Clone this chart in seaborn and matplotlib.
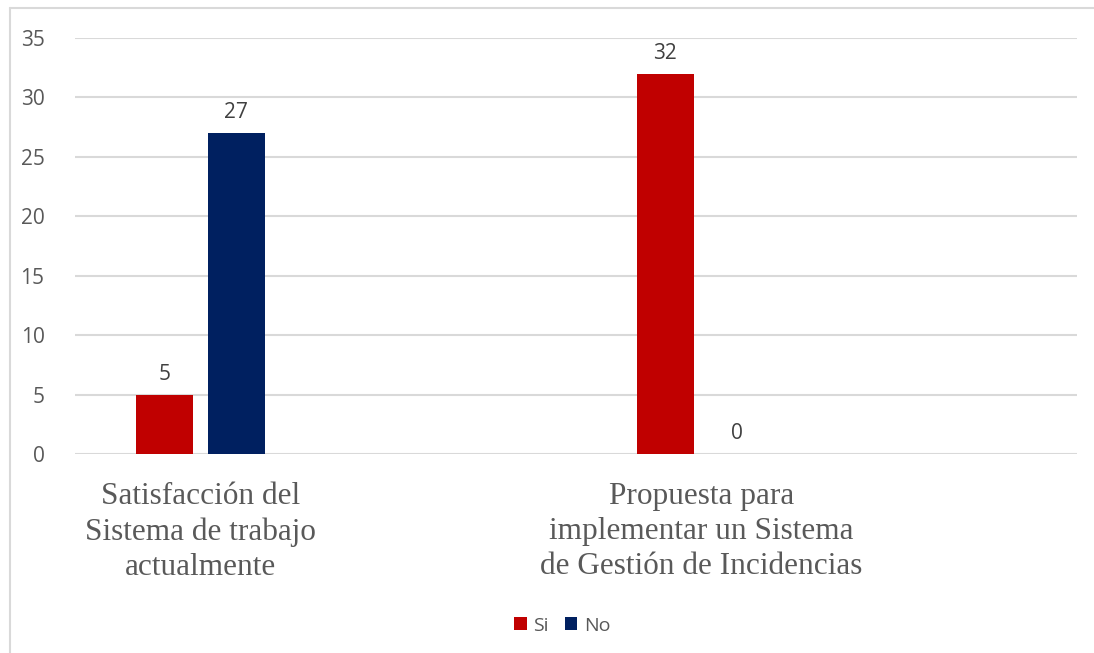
import matplotlib
matplotlib.use("Agg")
import matplotlib.pyplot as plt
from matplotlib.lines import Line2D
from matplotlib.patches import Patch
import seaborn as sns
import pandas as pd

# Survey answers per question
categories = ["Satisfacción del\nSistema de trabajo\nactualmente",
              "Propuesta para\nimplementar un Sistema\nde Gestión de Incidencias"]
series = ["Si", "No"]
si_values = [5, 32]
no_values = [27, 0]
colors = {"Si": "#C00000", "No": "#002060"}

# Empty slots keep the two questions spread over the axis
slot_order = [categories[0], "", categories[1], " "]

df = pd.DataFrame({
    "pregunta": categories * 2,
    "respuesta": ["Si"] * len(categories) + ["No"] * len(categories),
    "valor": si_values + no_values,
})

sns.set_theme(style="white")
plt.rcParams["font.family"] = ["Open Sans", "DejaVu Sans"]

fig = plt.figure(figsize=(10.94, 6.53), dpi=100)
ax = fig.add_axes([0.0686, 0.3047, 0.9159, 0.6371])

sns.barplot(data=df, x="pregunta", y="valor", hue="respuesta",
            order=slot_order, hue_order=series, palette=colors,
            width=0.576, gap=0.208, ax=ax, legend=False, saturation=1,
            linewidth=0)

ax.set_ylim(0, 35)
ax.set_xlim(-0.5, 3.5)
ax.set_yticks(range(0, 36, 5))
ax.yaxis.grid(True, color="#D9D9D9", linewidth=1.5)
ax.set_axisbelow(True)
for s in ax.spines.values():
    s.set_visible(False)
ax.set_xlabel("")
ax.set_ylabel("")
ax.tick_params(axis="y", labelsize=15, colors="#595959", length=0, pad=22)
ax.tick_params(axis="x", length=0, pad=20)
ax.set_xticks(range(len(slot_order)))
ax.set_xticklabels(slot_order, family=["Liberation Serif"], fontsize=22.5,
                   color="#595959", linespacing=1.28, va="top")

for container in ax.containers:
    ax.bar_label(container, fmt="%d", padding=7, fontsize=15, color="#404040")

# Legend below the plot
handles = [Patch(facecolor=colors[s], edgecolor="none", label=s) for s in series]
fig.legend(handles=handles, loc="center", bbox_to_anchor=(0.514, 0.042),
           ncol=2, frameon=False, fontsize=14, handlelength=0.65,
           handleheight=0.65, handletextpad=0.35, columnspacing=0.8,
           labelcolor="#595959")

# Chart frame
fig.add_artist(Line2D([10 / 1094, 10 / 1094], [0, 1 - 8 / 653],
                      transform=fig.transFigure, color="#D9D9D9", linewidth=1.5))
fig.add_artist(Line2D([10 / 1094, 1], [1 - 8 / 653, 1 - 8 / 653],
                      transform=fig.transFigure, color="#D9D9D9", linewidth=1.5))

fig.savefig("out.png", dpi=100)
